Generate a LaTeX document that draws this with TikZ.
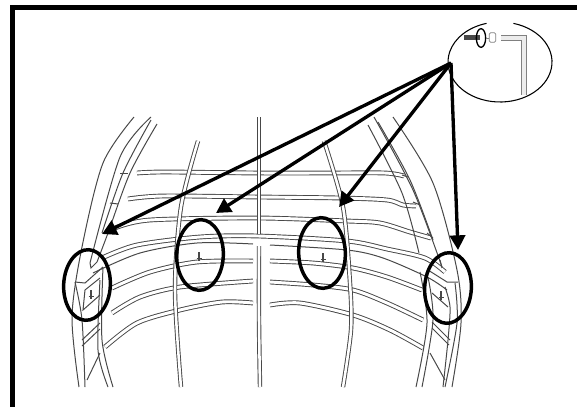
\documentclass[tikz,border=0pt]{standalone}
\usepackage{tikz}
\usetikzlibrary{arrows.meta,shapes.geometric}
\definecolor{ribgray}{HTML}{484848}
\tikzset{
  rib/.style={draw=ribgray,line width=0.7pt,double=white,double distance=1.9pt,line cap=butt},
  latrib/.style={draw=ribgray,line width=0.7pt,double=white,double distance=2.2pt},
  rimline/.style={draw=ribgray,line width=0.75pt},
  screwmark/.style={draw=ribgray,line width=0.8pt},
  ringmark/.style={draw=black,shape=ellipse,line width=2.6pt,minimum width=35pt,minimum height=53pt,inner sep=0pt},
  pointer/.style={draw=black,line width=2.5pt,-{Triangle[length=11pt,width=11.5pt]}},
}
\begin{document}
\begin{tikzpicture}[x=0.75pt,y=0.75pt,yscale=-1]
\useasboundingbox (0,0) rectangle (577,407);

% Frame
\draw [line width=3.75pt] (577,7.5) -- (12.5,7.5) -- (12.5,407);

% Latitude ribs
\draw [latrib] plot [smooth] coordinates {(137,173) (165,172) (258,173) (330,173) (385,173) (404,176)};
\draw [latrib] plot [smooth] coordinates {(128,199) (163,196) (258,197) (340,198) (387,200) (403,205) (416,206)};
\draw [latrib] plot [smooth] coordinates {(115,228) (150,220) (258,218) (347,221) (380,223) (410,232) (431,238)};
\draw [latrib] plot [smooth] coordinates {(102,258) (137,245) (200,237) (258,236) (347,241) (387,249) (425,258) (445,272)};
\draw [rimline] plot [smooth] coordinates {(93,273) (140,253) (197,243) (253,244)};
\draw [rimline] plot [smooth] coordinates {(270,245) (347,250) (383,258) (427,277) (447,290)};
\draw [latrib] plot [smooth] coordinates {(112,288) (150,272) (197,262) (253,261)};
\draw [latrib] plot [smooth] coordinates {(270,261) (313,263) (353,268) (387,277) (422,290)};
\draw [latrib] plot [smooth] coordinates {(112,313) (140,297) (180,287) (253,281)};
\draw [latrib] plot [smooth] coordinates {(270,282) (313,285) (353,290) (387,303) (423,320)};
\draw [latrib] plot [smooth] coordinates {(105,347) (137,323) (180,310) (222,302) (253,303)};
\draw [latrib] plot [smooth] coordinates {(270,305) (300,303) (353,315) (390,330) (423,348)};

% Meridian ribs
\draw [rib] plot [smooth] coordinates {(198,141) (181,207) (175,290) (181,387)};
\draw [rib] plot [smooth] coordinates {(259,117) (259,234)};
\draw [rib] plot [smooth] coordinates {(259,246) (259,320) (260,387)};
\draw [rib] plot [smooth] coordinates {(324,141) (343,207) (350,283) (351,330) (343,387)};

% Left rim
\draw [rimline] plot [smooth] coordinates {(134,117) (103,163) (82,247) (72,317) (79,387)};
\draw [rimline] plot [smooth] coordinates {(151,117) (120,157) (90,263)};
\draw [rimline] plot [smooth] coordinates {(151,120) (123,173) (102,233)};
\draw [rimline] plot [smooth] coordinates {(157,124) (130,173) (108,233) (97,262)};
\draw [rimline] plot [smooth] coordinates {(75,282) (82,320) (85,387)};
\draw [rimline] plot [smooth] coordinates {(103,267) (102,340) (113,387)};
\draw [rimline] plot [smooth] coordinates {(100,280) (98,350) (108,387)};
\draw [rimline] (75,282) -- (85,283) -- (103,267);
\draw [rimline] (90,263) -- (91,268) -- (97,262);
\draw [rimline] (85,290) -- (100,278);
\draw [rimline] (85,290) -- (83,310) -- (100,295);
\draw [rimline] (82,340) -- (100,323);
\draw [rimline] (82,346) -- (100,329);
\draw [rimline] (87,380) -- (100,353);
\draw [rimline] (120,173) -- (128,173);
\draw [rimline] (110,203) -- (118,204);

% Right rim
\draw [rimline] plot [smooth] coordinates {(368,125) (402,193) (419,253)};
\draw [rimline] plot [smooth] coordinates {(374,117) (413,190) (442,267)};
\draw [rimline] plot [smooth] coordinates {(378,122) (410,180) (433,240)};
\draw [rimline] plot [smooth] coordinates {(393,117) (433,183) (457,270) (461,323) (452,387)};
\draw [rimline] plot [smooth] coordinates {(455,283) (457,323) (445,387)};
\draw [rimline] plot [smooth] coordinates {(420,272) (427,323) (416,387)};
\draw [rimline] plot [smooth] coordinates {(428,277) (433,320) (422,387)};
\draw [rimline] plot [smooth] coordinates {(445,287) (450,307) (448,340) (443,387)};
\draw [rimline] (458,282) -- (447,282) -- (428,270);
\draw [rimline] (440,260) -- (442,268);
\draw [rimline] (432,293) -- (448,307);
\draw [rimline] (432,322) -- (450,340);
\draw [rimline] (432,328) -- (449,345);
\draw [rimline] (430,353) -- (445,380);
\draw [rimline] (402,175) -- (408,177);
\draw [rimline] (413,202) -- (420,205);
\draw [rimline] (427,233) -- (433,238);

% Screws
\foreach \sx/\sy in {91/290,199/252,323/253,441/291}{
  \draw [screwmark,line width=1.6pt] (\sx,\sy) -- (\sx,\sy+6);
  \draw [screwmark] (\sx-2.5,\sy+6.5) -- (\sx+2.5,\sy+6.5);
  \draw [screwmark] (\sx,\sy+6) -- (\sx,\sy+9);
}

% Inset
\coordinate (insetc) at (500,62);
\draw [line width=0.8pt] ([shift={(285:52 and 40)}]insetc) arc [start angle=285,end angle=615,x radius=52,y radius=40];
\draw [draw=ribgray,line width=3.8pt] (464,37.5) -- (480,37.5);
\node (washer) [draw=black,ellipse,line width=1pt,minimum width=7pt,minimum height=14pt,inner sep=0pt] at (481,38) {};
\draw [draw=gray,line width=0.6pt] (washer.east) -- (489,38);
\node (capnut) [draw=gray,rounded corners=1pt,line width=0.6pt,minimum width=5pt,minimum height=7pt,inner sep=0pt] at (492.5,37.5) {};
\draw [draw=gray,line width=0.8pt,double=gray!15,double distance=2.6pt] (501,38) -- (524,38) -- (524,95);

% Rings
\node (ringa) [ringmark,rotate=-3] at (87,285) {};
\node (ringb) [ringmark,rotate=-2] at (200,255) {};
\node (ringc) [ringmark,rotate=2] at (322,253) {};
\node (ringd) [ringmark,rotate=-3] at (448,288) {};

% Arrows
\coordinate (hub) at (451,63);
\coordinate (tipa) at (102,234);
\coordinate (tipb) at (216,213);
\coordinate (tipc) at (339,207);
\coordinate (tipd) at (458,250);
\foreach \tip in {tipa,tipb,tipc,tipd}{
  \draw [pointer] (hub) -- (\tip);
}

\end{tikzpicture}
\end{document}
